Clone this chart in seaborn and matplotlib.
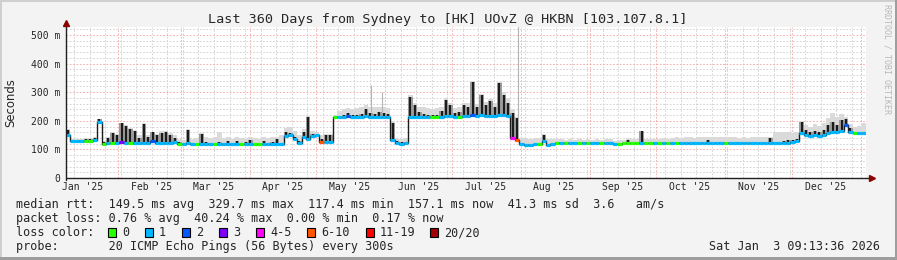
import numpy as np
import pandas as pd
import matplotlib
matplotlib.use("Agg")
import matplotlib.pyplot as plt
import seaborn as sns
from matplotlib.patches import Rectangle
from matplotlib.transforms import blended_transform_factory

# ---------------- data ----------------
START = pd.Timestamp("2025-01-08 09:13:36")
BIN_DAYS = 2

MEDIAN = [
    150, 130, 130, 130, 130, 130, 132, 195, 120, 122,
    122, 124, 125, 124, 123, 122, 122, 124, 122, 128,
    123, 122, 123, 122, 125, 120, 118, 122, 118, 118,
    120, 118, 118, 118, 118, 118, 118, 118, 118, 118,
    118, 118, 118, 118, 120, 118, 118, 120, 118, 148,
    150, 135, 122, 145, 135, 148, 150, 127, 125, 127,
    212, 214, 215, 216, 214, 214, 215, 216, 215, 215,
    214, 215, 212, 133, 122, 120, 121, 214, 215, 215,
    214, 214, 214, 215, 215, 218, 216, 215, 215, 216,
    218, 222, 218, 220, 218, 217, 218, 222, 220, 218,
    140, 133, 118, 117, 117, 118, 118, 130, 117, 118,
    124, 124, 124, 124, 124, 124, 124, 124, 124, 124,
    124, 124, 124, 118, 120, 121, 122, 121, 121, 122,
    121, 121, 121, 121, 121, 121, 121, 121, 121, 121,
    121, 121, 121, 121, 122, 121, 121, 121, 121, 121,
    121, 121, 121, 121, 121, 121, 121, 121, 122, 121,
    121, 121, 123, 125, 128, 158, 150, 148, 150, 148,
    152, 158, 160, 162, 165, 185, 160, 157, 157, 157,
]
DARK = [
    168, 130, 130, 132, 137, 135, 140, 206, 125, 140,
    157, 150, 191, 183, 172, 165, 140, 190, 145, 160,
    150, 158, 162, 150, 140, 125, 122, 168, 122, 120,
    155, 125, 122, 120, 125, 120, 128, 120, 130, 120,
    125, 132, 120, 122, 128, 120, 125, 135, 120, 160,
    158, 142, 128, 160, 214, 155, 152, 135, 150, 150,
    212, 218, 220, 228, 220, 222, 225, 240, 228, 225,
    230, 228, 225, 192, 128, 125, 126, 284, 255, 232,
    225, 222, 220, 222, 235, 273, 255, 228, 230, 255,
    249, 337, 249, 290, 255, 270, 250, 331, 290, 262,
    227, 210, 122, 120, 120, 120, 120, 150, 118, 120,
    125, 125, 125, 125, 125, 125, 125, 125, 125, 125,
    125, 125, 125, 119, 121, 122, 132, 122, 122, 164,
    122, 122, 122, 122, 122, 122, 122, 122, 122, 122,
    122, 122, 122, 122, 133, 122, 122, 125, 122, 122,
    122, 125, 122, 122, 122, 122, 122, 122, 140, 125,
    125, 128, 133, 133, 135, 197, 168, 160, 165, 162,
    168, 185, 195, 185, 203, 205, 175, 160, 158, 158,
]
SMOKE = [
    170, 136, 136, 137, 140, 140, 145, 208, 130, 145,
    160, 155, 192, 185, 175, 168, 150, 192, 150, 162,
    155, 163, 165, 158, 150, 135, 132, 170, 135, 140,
    158, 145, 140, 142, 162, 140, 142, 138, 145, 140,
    138, 142, 140, 138, 142, 140, 142, 145, 150, 175,
    180, 165, 150, 170, 218, 165, 160, 150, 155, 155,
    220, 235, 240, 245, 240, 245, 250, 255, 250, 250,
    250, 250, 245, 200, 140, 138, 140, 290, 262, 250,
    250, 245, 242, 245, 250, 278, 262, 245, 248, 262,
    262, 340, 258, 295, 265, 275, 262, 335, 300, 280,
    240, 215, 140, 140, 138, 140, 140, 155, 135, 135,
    135, 135, 134, 135, 134, 135, 134, 135, 134, 135,
    134, 135, 136, 130, 132, 134, 140, 135, 136, 166,
    136, 138, 137, 138, 140, 138, 140, 142, 140, 142,
    142, 140, 142, 144, 145, 142, 144, 142, 144, 142,
    144, 140, 144, 140, 144, 145, 142, 145, 145, 160,
    162, 162, 160, 158, 162, 200, 185, 180, 188, 182,
    192, 210, 227, 215, 225, 215, 190, 180, 182, 192,
]
LOSS = [
    1, 1, 1, 1, 0, 0, 1, 1, 0, 1,
    0, 1, 3, 1, 0, 1, 1, 1, 1, 2,
    1, 1, 1, 1, 1, 0, 1, 1, 1, 0,
    1, 1, 1, 0, 1, 1, 1, 1, 1, 0,
    1, 1, 0, 0, 1, 1, 1, 1, 1, 1,
    1, 1, 1, 1, 1, 1, 1, 5, 1, 1,
    0, 1, 1, 2, 1, 1, 1, 1, 1, 1,
    1, 1, 1, 1, 1, 1, 1, 1, 1, 1,
    1, 1, 0, 0, 1, 1, 1, 1, 0, 1,
    1, 2, 1, 1, 1, 1, 1, 1, 1, 1,
    4, 5, 1, 1, 1, 1, 0, 1, 1, 1,
    0, 1, 0, 1, 1, 0, 1, 0, 1, 1,
    0, 1, 1, 1, 0, 0, 0, 0, 0, 1,
    0, 0, 1, 0, 1, 0, 1, 0, 1, 1,
    1, 1, 1, 1, 1, 1, 1, 1, 0, 1,
    1, 1, 1, 1, 1, 1, 1, 1, 1, 1,
    1, 1, 1, 1, 1, 1, 1, 1, 1, 1,
    1, 1, 1, 1, 1, 2, 1, 0, 1, 1,
]
# isolated thin outlier pings (day offset, top in ms)
OUTLIER_DAY = [137.3, 142.2, 203.4]
OUTLIER_TOP = [325, 302, 600]
OUTLIER_BASE = [230, 230, 140]

LOSS_LABELS = ["0", "1", "2", "3", "4-5", "6-10", "11-19", "20/20"]
LOSS_COLORS = ["#26ff00", "#00b8ff", "#0059ff", "#7e00ff",
               "#ff00ff", "#ff5500", "#ff0000", "#a10000"]
MONTH_LABELS = ["Jan '25", "Feb '25", "Mar '25", "Apr '25", "May '25", "Jun '25",
                "Jul '25", "Aug '25", "Sep '25", "Oct '25", "Nov '25", "Dec '25"]
Y_TICKS = [0, 100, 200, 300, 400, 500]
Y_LABELS = ["0", "100 m", "200 m", "300 m", "400 m", "500 m"]

TITLE = "Last 360 Days from Sydney to [HK] UOvZ @ HKBN [103.107.8.1]"
LINE_RTT = "median rtt:  149.5 ms avg  329.7 ms max  117.4 ms min  157.1 ms now  41.3 ms sd  3.6   am/s"
LINE_LOSS = "packet loss: 0.76 % avg  40.24 % max  0.00 % min  0.17 % now"
LINE_COLOR = "loss color:"
LINE_PROBE = "probe:       20 ICMP Echo Pings (56 Bytes) every 300s"
DATE_TEXT = "Sat Jan  3 09:13:36 2026"
WATERMARK = "RRDTOOL / TOBI OETIKER"
Y_TITLE = "Seconds"

# ---------------- style ----------------
sns.set_theme(style="white")
plt.rcParams["font.family"] = ["DejaVu Sans Mono", "DejaVu Sans"]

W, H = 897, 260
BG = "#f3f3f3"
fig = plt.figure(figsize=(W / 100, H / 100), dpi=100)
fig.patch.set_facecolor(BG)

def fx(px):
    return px / W

def fy(py):
    return 1 - py / H

ax = fig.add_axes([fx(66), fy(178), 800 / W, 151 / H])
ax.set_facecolor("white")
ax.set_xlim(0, 360)
ax.set_ylim(0, 528)

n = len(MEDIAN)
xs = np.arange(n) * BIN_DAYS
xe = np.arange(n + 1) * BIN_DAYS
med = np.asarray(MEDIAN, float)
dark = np.asarray(DARK, float)
smoke = np.asarray(SMOKE, float)
medE = np.append(med, med[-1])
darkE = np.append(dark, dark[-1])
smokeE = np.append(smoke, smoke[-1])

# light smoke
ax.fill_between(xe, medE, smokeE, step="post", color="#dadada", lw=0, zorder=1)
# medium smoke around the dense part
ax.fill_between(xe, medE, darkE, step="post", color="#9c9c9c", lw=0, zorder=1.2)
# thin outlier pings
ax.vlines(OUTLIER_DAY, OUTLIER_BASE, OUTLIER_TOP, colors="#b4b4b4", lw=0.8, zorder=1.5)
# dense (dark) smoke as thin spikes
ax.vlines(xs + BIN_DAYS * 0.5, med, dark, colors="#1c1c1c", lw=1.5, zorder=2)

df = pd.DataFrame({"day": xe, "median": medE})
sns.lineplot(data=df, x="day", y="median", drawstyle="steps-post", color="#1c1c1c",
             lw=1.0, ax=ax, estimator=None, errorbar=None, legend=False, zorder=3)
ax.hlines(med, xs, xs + BIN_DAYS, colors=[LOSS_COLORS[l] for l in LOSS],
          lw=2.3, zorder=4)

# grid / ticks
month_starts = pd.date_range("2025-02-01", "2026-01-01", freq="MS")
month_days = [(d - START) / pd.Timedelta(days=1) for d in month_starts]
first_week = (pd.Timestamp("2025-01-12") - START) / pd.Timedelta(days=1)
week_days = np.arange(first_week, 360, 7)
label_days = [(pd.Timestamp(2025, m, 16) - START) / pd.Timedelta(days=1) for m in range(1, 13)]

ax.set_xticks(month_days)
ax.set_xticks(week_days, minor=True)
ax.set_xticklabels([])
ax.set_yticks(Y_TICKS)
ax.set_yticks(np.arange(0, 528, 20), minor=True)
ax.set_yticklabels(Y_LABELS, fontsize=7, family="DejaVu Sans Mono")
ax.set_xlabel("")
ax.set_ylabel("")

dot = (0, (2, 2))
ax.grid(which="minor", color="#cccccc", ls=dot, lw=0.6)
ax.grid(which="major", color="#f2a2a2", ls=dot, lw=0.6)
ax.set_axisbelow(True)

ax.tick_params(axis="x", which="major", direction="inout", length=3, width=0.7,
               color="#ff6060", pad=2)
ax.tick_params(axis="x", which="minor", direction="inout", length=2, width=0.7,
               color="#a0a0a0")
ax.tick_params(axis="y", which="major", direction="out", length=2, width=0.7,
               color="#ff6060", pad=2.2, labelsize=7)
ax.tick_params(axis="y", which="minor", length=0)

for s in ax.spines.values():
    s.set_visible(False)

AX_COL = "#202020"
ARROW = "#8b0000"
ax.plot([0, 1.008], [0, 0], transform=ax.transAxes, color=AX_COL, lw=1.0,
        clip_on=False, zorder=6)
ax.plot([0, 0], [-0.01, 1.02], transform=ax.transAxes, color=AX_COL, lw=1.0,
        clip_on=False, zorder=6)
ax.plot([1.008], [0], marker=">", ms=4.5, color=ARROW, transform=ax.transAxes,
        clip_on=False, zorder=7)
ax.plot([0], [1.025], marker="^", ms=4.5, color=ARROW, transform=ax.transAxes,
        clip_on=False, zorder=7)

trans = blended_transform_factory(ax.transData, ax.transAxes)
for d, lab in zip(label_days, MONTH_LABELS):
    ax.text(d, -0.058, lab, transform=trans, ha="center", va="center",
            fontsize=7, family="DejaVu Sans Mono", clip_on=False)

# ---------------- texts ----------------
fig.text(fx(448), fy(19.5), TITLE, ha="center", va="center", fontsize=9.7,
         family="DejaVu Sans Mono")
fig.text(fx(11), fy(102.5), Y_TITLE, rotation=90, ha="center", va="center",
         fontsize=8.4, family="DejaVu Sans")
fig.text(fx(887), fy(4), WATERMARK, rotation=270, ha="center", va="top",
         fontsize=6, family="DejaVu Sans Mono", color="#b8b8b8")

LEG_FS = 8.5
fig.text(fx(16), fy(204.5), LINE_RTT, ha="left", va="center", fontsize=LEG_FS)
fig.text(fx(16), fy(218.5), LINE_LOSS, ha="left", va="center", fontsize=LEG_FS)
fig.text(fx(16), fy(232.5), LINE_COLOR, ha="left", va="center", fontsize=LEG_FS)
fig.text(fx(16), fy(246.5), LINE_PROBE, ha="left", va="center", fontsize=LEG_FS)
fig.text(fx(880), fy(246.5), DATE_TEXT, ha="right", va="center", fontsize=LEG_FS)

box_x = [108, 145, 182, 219, 256, 307, 366, 430]
for bx, lab, col in zip(box_x, LOSS_LABELS, LOSS_COLORS):
    fig.add_artist(Rectangle((fx(bx), fy(237)), 8 / W, 9 / H, transform=fig.transFigure,
                             facecolor=col, edgecolor="black", lw=0.8))
    fig.text(fx(bx + 14), fy(232.5), lab, ha="left", va="center", fontsize=LEG_FS)

# frame shading
fig.add_artist(Rectangle((0, 1 - 2 / H), 1, 2 / H, transform=fig.transFigure,
                         facecolor="#cfcfcf", edgecolor="none"))
fig.add_artist(Rectangle((0, 0), 2 / W, 1, transform=fig.transFigure,
                         facecolor="#cfcfcf", edgecolor="none"))
fig.add_artist(Rectangle((0, 0), 1, 3 / H, transform=fig.transFigure,
                         facecolor="#9e9e9e", edgecolor="none"))
fig.add_artist(Rectangle((1 - 2 / W, 0), 2 / W, 1, transform=fig.transFigure,
                         facecolor="#9e9e9e", edgecolor="none"))

fig.savefig("out.png", dpi=100, facecolor=BG)
